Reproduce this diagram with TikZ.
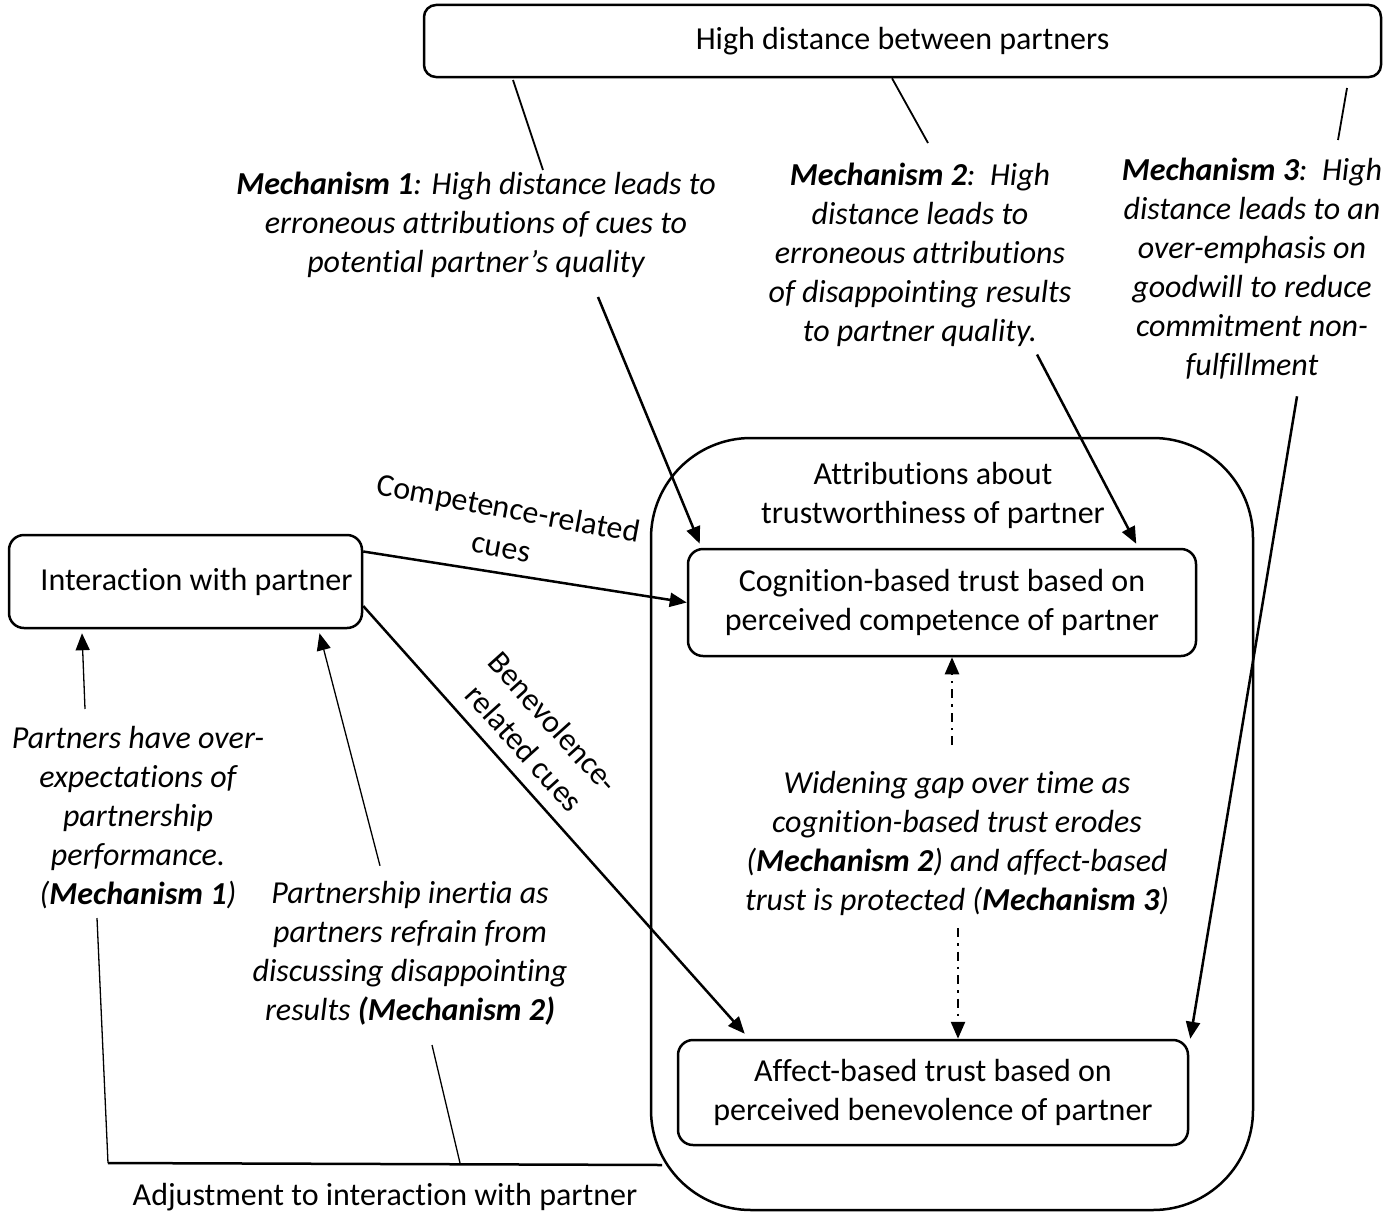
\documentclass[tikz,border=0pt]{standalone}
\usepackage{fontspec}
\setmainfont{Carlito}[Ligatures=CommonOff]
\usetikzlibrary{arrows.meta,calc}
\newcommand{\diafont}{\fontsize{32}{39}\selectfont}
\newcommand{\mb}[1]{\textbf{#1}}
\tikzset{
  box/.style={draw,line width=2.5pt,rounded corners=15pt,align=center,font=\diafont},
  plain/.style={align=center,font=\diafont,inner sep=2pt},
  mech/.style={align=center,font=\diafont\itshape,inner sep=2pt},
  arr/.style={line width=2.5pt,-{Triangle[length=17pt,width=14pt]}},
  tarr/.style={line width=1.3pt,-{Triangle[length=17pt,width=14pt]}},
  link/.style={line width=1.3pt},
  dashdot/.style={line width=2.5pt,dash pattern=on 9pt off 6pt on 2.5pt off 6pt,-{Triangle[length=17pt,width=14pt]}}
}
\begin{document}
\begin{tikzpicture}[x=1pt,y=-1pt]
\useasboundingbox (0,0) rectangle (1399,1215);
% top
\node[box,rounded corners=12pt,minimum width=957,minimum height=72] (dist) at (902.5,41) {High distance between partners};
\node[mech] (mechA) at (476,225) {\mb{Mechanism 1}: High distance leads to\\erroneous attributions of cues to\\potential partner’s quality};
\node[mech] (mechB) at (920,254.5) {\mb{Mechanism 2}:\ \ High\\distance leads to\\erroneous attributions\\of disappointing results\\to partner quality.};
\node[mech] (mechC) at (1252,268.5) {\mb{Mechanism 3}:\ \ High\\distance leads to an\\over-emphasis on\\goodwill to reduce\\commitment non-\\fulfillment};
\draw[link,line width=1.8pt] (513,80) -- (mechA.north -| 543,0);
\draw[link,line width=1.8pt] (dist.south -| 892,0) -- (928,143);
\draw[link,line width=1.8pt] (1347,88) -- (1338,140);
% container
\draw[line width=2.5pt,rounded corners=100pt] (651,438) rectangle (1253,1210);
\node[plain] (attr) at (933,495) {Attributions about\\trustworthiness of partner};
\node[box,minimum width=508,minimum height=107] (cog) at (942,602.5) {Cognition-based trust based on\\perceived competence of partner};
\node[box,minimum width=510,minimum height=105] (aff) at (933,1092.5) {Affect-based trust based on\\perceived benevolence of partner};
\node[mech] (gap) at (957,843) {Widening gap over time as\\cognition-based trust erodes\\(\mb{Mechanism 2}) and affect-based\\trust is protected (\mb{Mechanism 3})};
% left side
\node[box,minimum width=353,minimum height=93] (inter) at (185.5,581.5) {\hspace*{22pt}Interaction with partner};
\node[mech] (over) at (138,817.5) {Partners have over-\\expectations of\\partnership\\performance.\\(\mb{Mechanism 1})};
\node[mech] (inert) at (410,953) {Partnership inertia as\\partners refrain from\\discussing disappointing\\results \mb{(Mechanism 2)}};
\node[plain] (adj) at (385,1197) {Adjustment to interaction with partner};
\node[plain,rotate=-10.5] (comp) at (505,527) {Competence-related\\cues};
\node[plain,rotate=-48] (bene) at (539,735) {Benevolence-\\related cues};
% arrows
\draw[arr] ($(mechA.south)+(122,17)$) -- ($(cog.north west)+(13,-4)$);
\draw[arr] ($(mechB.south)+(117,6)$) -- ($(cog.north east)+(-61,-4)$);
\draw[arr] ($(mechC.south)+(45,15)$) -- ($(aff.north east)+(1,0)$);
\draw[arr] ([yshift=30pt]inter.east) -- (cog.west);
\draw[arr] ([yshift=-24.5pt]inter.east) -- ($(aff.north west)+(68,-5)$);
\draw[dashdot] (952,745) -- (cog.south -| 952,0);
\draw[dashdot] (958,928) -- (aff.north -| 958,0);
\draw[tarr] ($(over.north)+(-53,-15)$) -- ($(inter.south)+(-103.5,4)$);
\draw[tarr] ($(inert.north)+(-30,-13)$) -- ($(inter.south)+(134,4)$);
% adjustment lines
\coordinate (adjL) at (108,1163);
\coordinate (adjM) at (460,1163);
\coordinate (adjR) at (662,1165);
\draw[link] (97,918) -- (adjL);
\draw[link] (432,1045) -- (adjM);
\draw[line width=2.5pt] (adjL) -- (adjR);
\end{tikzpicture}
\end{document}
